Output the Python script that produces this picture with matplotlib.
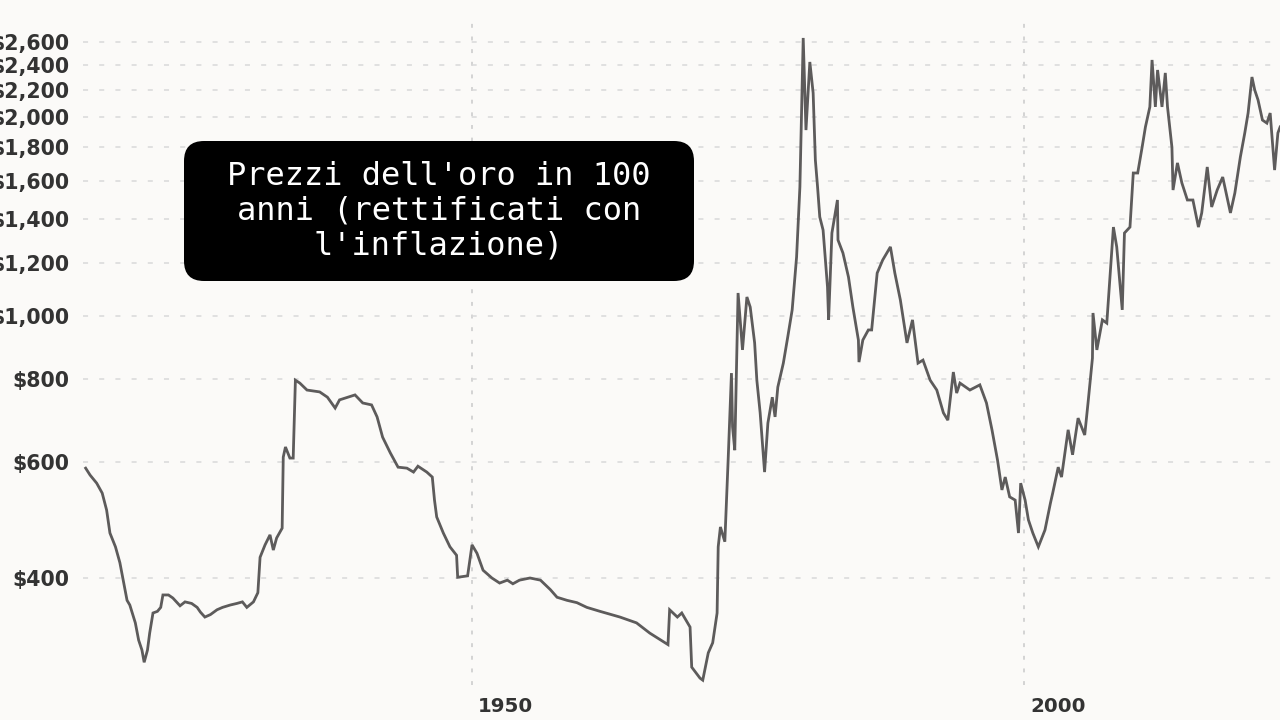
import matplotlib
matplotlib.use("Agg")
import matplotlib.pyplot as plt
from matplotlib.patches import FancyBboxPatch
from matplotlib.ticker import FixedLocator, NullLocator, FuncFormatter
from matplotlib.transforms import ScaledTranslation

# prezzo dell'oro rettificato con l'inflazione
years = [1915.0, 1915.4, 1916.0, 1916.5, 1916.9, 1917.2, 1917.7, 1918.1, 1918.4, 1918.75,
         1919.0, 1919.5, 1919.8, 1920.1, 1920.3, 1920.6, 1920.8, 1921.1, 1921.5, 1921.8,
         1922.0, 1922.5, 1922.9, 1923.55, 1924.0, 1924.6, 1925.1, 1925.4, 1925.8, 1926.3,
         1926.9, 1927.4, 1928.1, 1928.7, 1929.2, 1929.6, 1930.2, 1930.6, 1930.8, 1931.25,
         1931.7, 1932.0, 1932.3, 1932.8, 1932.9, 1933.1, 1933.5, 1933.8, 1934.0, 1934.4,
         1935.05, 1936.2, 1936.9, 1937.6, 1938.0, 1939.4, 1940.1, 1940.9, 1941.4, 1941.9,
         1942.6, 1943.3, 1944.1, 1944.7, 1945.1, 1945.9, 1946.4, 1946.6, 1946.8, 1947.4,
         1948.0, 1948.6, 1948.7, 1949.6, 1950.0, 1950.45, 1951.0, 1951.8, 1952.5, 1953.2,
         1953.7, 1954.3, 1955.25, 1956.2, 1957.1, 1957.7, 1958.6, 1959.5, 1960.4, 1961.6,
         1963.4, 1964.9, 1966.1, 1967.75, 1967.9, 1968.6, 1969.0, 1969.75, 1969.9, 1970.65,
         1970.9, 1971.4, 1971.8, 1972.2, 1972.3, 1972.5, 1972.9, 1973.2, 1973.5, 1973.6,
         1973.8, 1974.1, 1974.5, 1974.9, 1975.2, 1975.6, 1975.8, 1976.1, 1976.5, 1976.8,
         1977.2, 1977.45, 1977.7, 1978.2, 1978.6, 1979.0, 1979.4, 1979.7, 1980.0, 1980.25,
         1980.6, 1980.9, 1981.1, 1981.3, 1981.5, 1981.8, 1982.2, 1982.3, 1982.6, 1983.1,
         1983.15, 1983.6, 1984.1, 1984.5, 1985.0, 1985.05, 1985.4, 1985.9, 1986.2, 1986.7,
         1987.2, 1987.9, 1988.3, 1988.8, 1989.4, 1989.9, 1990.4, 1990.85, 1991.5, 1992.1,
         1992.7, 1993.1, 1993.6, 1993.9, 1994.2, 1995.1, 1996.0, 1996.6, 1997.1, 1997.6,
         1998.0, 1998.3, 1998.7, 1999.2, 1999.5, 1999.7, 2000.1, 2000.4, 2000.8, 2001.3,
         2001.9, 2002.4, 2002.6, 2003.1, 2003.4, 2004.0, 2004.4, 2004.9, 2005.5, 2005.8,
         2006.2, 2006.25, 2006.6, 2007.1, 2007.5, 2008.1, 2008.4, 2008.9, 2009.1, 2009.6,
         2009.9, 2010.3, 2010.7, 2011.0, 2011.4, 2011.6, 2011.9, 2012.1, 2012.5, 2012.8,
         2013.0, 2013.4, 2013.5, 2013.9, 2014.3, 2014.8, 2015.3, 2015.8, 2016.1, 2016.6,
         2017.0, 2017.5, 2018.0, 2018.7, 2019.1, 2019.6, 2020.0, 2020.3, 2020.65, 2020.9,
         2021.2, 2021.6, 2022.0, 2022.3, 2022.7, 2023.0, 2023.2]

prices = [587, 573, 557, 538, 507, 468, 446, 422, 397, 370,
          364, 342, 322, 311, 298, 311, 330, 354, 356, 361,
          377, 377, 373, 363, 368, 366, 361, 355, 349, 352,
          358, 361, 364, 366, 368, 361, 368, 380, 430, 449,
          465, 441, 460, 476, 610, 632, 608, 608, 798, 790,
          771, 766, 752, 724, 745, 758, 737, 732, 702, 654,
          619, 589, 587, 579, 591, 579, 569, 525, 495, 468,
          446, 433, 401, 403, 449, 436, 411, 400, 393, 397,
          392, 397, 400, 397, 384, 374, 370, 367, 361, 356,
          349, 342, 330, 317, 358, 349, 354, 337, 293, 282,
          280, 308, 319, 354, 446, 478, 454, 604, 818, 678,
          625, 1082, 887, 1067, 1030, 909, 798, 712, 579, 687,
          752, 702, 779, 847, 928, 1020, 1227, 1567, 2636, 1911,
          2424, 2175, 1722, 1567, 1411, 1348, 1105, 985, 1334, 1497,
          1302, 1244, 1144, 1030, 918, 850, 918, 951, 951, 1160,
          1214, 1271, 1160, 1056, 909, 985, 847, 856, 798, 771,
          712, 694, 821, 763, 790, 771, 785, 737, 671, 604,
          544, 569, 531, 525, 468, 557, 525, 490, 468, 446,
          473, 520, 538, 589, 569, 671, 615, 699, 659, 737,
          862, 1009, 887, 985, 974, 1362, 1271, 1020, 1334, 1362,
          1645, 1645, 1800, 1932, 2072, 2441, 2072, 2357, 2072, 2333,
          2072, 1800, 1550, 1704, 1589, 1497, 1497, 1362, 1431, 1680,
          1461, 1550, 1622, 1431, 1534, 1740, 1892, 2028, 2300, 2198,
          2123, 1979, 1958, 2028, 1662, 1892, 1932]

yTicks = [400, 600, 800, 1000, 1200, 1400, 1600, 1800, 2000, 2200, 2400, 2600]
xTicks = [1950, 2000]
title = "Prezzi dell'oro in 100\nanni (rettificati con\nl'inflazione)"

bg = '#fbfaf8'

fig = plt.figure(figsize=(12.8, 7.2), dpi=100, facecolor=bg)
ax = fig.add_axes([83/1280, 35/720, 1197/1280, 663/720])
ax.set_facecolor(bg)

ax.plot(years, prices, color='#5d5b5b', lw=2.0, solid_joinstyle='miter', zorder=3)

ax.set_yscale('log')
ax.set_xlim(1914.76, 2023.19)
ax.set_ylim(275.3, 2787)

ax.yaxis.set_major_locator(FixedLocator(yTicks))
ax.yaxis.set_minor_locator(NullLocator())
ax.yaxis.set_major_formatter(FuncFormatter(lambda v, p: '${:,.0f}'.format(v)))
ax.set_xticks(xTicks)
ax.set_xticklabels([str(x) for x in xTicks])

for s in ax.spines.values():
    s.set_visible(False)

ax.tick_params(axis='y', length=0, pad=9.5, labelsize=14.8, labelcolor='#333333')
ax.tick_params(axis='x', length=0, pad=9, labelsize=14.3, labelcolor='#333333')
for lab in ax.get_yticklabels() + ax.get_xticklabels():
    lab.set_fontweight('bold')
# etichette anni a destra della griglia
shift = ScaledTranslation(0.06, 0, fig.dpi_scale_trans)
for lab in ax.get_xticklabels():
    lab.set_horizontalalignment('left')
    lab.set_transform(lab.get_transform() + shift)

ax.grid(axis='y', color='#d9d9d9', lw=1.1, linestyle=(0, (3.3, 7.3)))
ax.grid(axis='x', color='#d3d3d3', lw=1.4, linestyle=(0, (2.0, 4.5)))

# riquadro del titolo
box = FancyBboxPatch((1.84, 4.39), 5.10, 1.40,
                     boxstyle='round,pad=0,rounding_size=0.2',
                     transform=fig.dpi_scale_trans, fc='black', ec='none', zorder=5)
fig.patches.append(box)
fig.text(4.39 / 12.8, 5.09 / 7.2, title, color='white', family='DejaVu Sans Mono',
         fontsize=23, ha='center', va='center', linespacing=1.15, zorder=6)

fig.savefig('out.png', dpi=100, facecolor=bg)
